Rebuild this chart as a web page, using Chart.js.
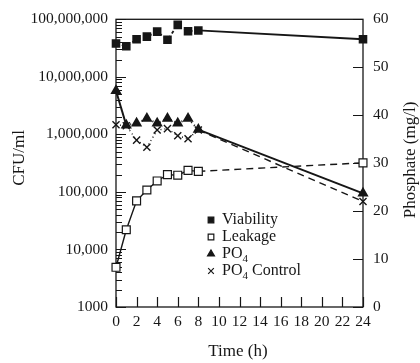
<!DOCTYPE html>
<html>
<head>
<meta charset="utf-8">
<script src="https://cdn.jsdelivr.net/npm/chart.js@4.4.1/dist/chart.umd.min.js"></script>
<style>
    html, body { margin: 0; padding: 0; background: #fff; }
</style>
</head>
<body>
<canvas id="phosphate-chart" width="420" height="363"></canvas>
<script>
// time points (h) shared by every series
const hours = [0, 1, 2, 3, 4, 5, 6, 7, 8, 24];
// CFU/ml (left, log axis)
const viability = [3.8e7, 3.4e7, 4.5e7, 5.0e7, 6.1e7, 4.4e7, 8.0e7, 6.2e7, 6.4e7, 4.5e7];
const leakage = [4900, 22000, 70000, 108000, 155000, 200000, 195000, 237000, 228000, 320000];
// phosphate mg/l (right axis)
const po4 = [45.1, 37.9, 38.3, 39.3, 38.3, 39.3, 38.3, 39.3, 37.0, 23.7];
const po4Control = [38.0, 37.8, 34.8, 33.3, 36.9, 37.2, 35.7, 35.1, 36.9, 22.0];

const seriesNames = ["Viability", "Leakage", "PO\u2084", "PO\u2084 Control"];
const cfuTicks = [1000, 10000, 100000, 1000000, 10000000, 100000000];
const phosphateTicks = [0, 10, 20, 30, 40, 50, 60];
const timeTicks = [0, 2, 4, 6, 8, 10, 12, 14, 16, 18, 20, 22, 24];

const ink = "#161616";
const serif = "'Liberation Serif', 'DejaVu Serif', serif";

const toPoints = (vals) => hours.map((h, i) => ({ x: h, y: vals[i] }));
// segments before 8 h are the short connectors, after that the long run to 24 h
const dash = (early, late) => (c) => (c.p0DataIndex < 8 ? early : late);

// every 1..9 x 10^k step for the log axis
const logSteps = [];
for (let k = 3; k < 8; k++) {
    for (let d = 1; d < 10; d++) logSteps.push(d * Math.pow(10, k));
}
logSteps.push(1e8);

const frameAndTitles = {
    id: "frameAndTitles",
    beforeDatasetsDraw(chart) {
        const { ctx, chartArea: a, scales } = chart;
        ctx.save();
        ctx.strokeStyle = ink;
        ctx.lineWidth = 1.3;
        ctx.strokeRect(a.left, a.top, a.right - a.left, a.bottom - a.top);
        ctx.lineWidth = 1.2;
        ctx.beginPath();
        scales.y.ticks.forEach((t) => {
            const y = Math.round(scales.y.getPixelForValue(t.value)) + 0.5;
            const len = cfuTicks.includes(t.value) ? 10 : 6;
            ctx.moveTo(a.left, y);
            ctx.lineTo(a.left + len, y);
        });
        scales.y2.ticks.forEach((t) => {
            const y = Math.round(scales.y2.getPixelForValue(t.value)) + 0.5;
            ctx.moveTo(a.right, y);
            ctx.lineTo(a.right - 10, y);
        });
        scales.x.ticks.forEach((t) => {
            const x = Math.round(scales.x.getPixelForValue(t.value)) + 0.5;
            ctx.moveTo(x, a.bottom);
            ctx.lineTo(x, a.bottom - 10);
        });
        ctx.stroke();
        ctx.restore();
    },
    afterDraw(chart) {
        const { ctx } = chart;
        ctx.save();
        ctx.fillStyle = ink;
        ctx.font = "17px " + serif;
        ctx.textAlign = "center";
        ctx.textBaseline = "middle";
        ctx.fillText("Time (h)", 238, 352);
        ctx.translate(20, 158);
        ctx.rotate(-Math.PI / 2);
        ctx.fillText("CFU/ml", 0, 0);
        ctx.restore();

        ctx.save();
        ctx.fillStyle = ink;
        ctx.font = "17px " + serif;
        ctx.textAlign = "center";
        ctx.textBaseline = "middle";
        ctx.translate(411, 160);
        ctx.rotate(-Math.PI / 2);
        ctx.fillText("Phosphate (mg/l)", 0, 0);
        ctx.restore();

        // legend
        ctx.save();
        chart.data.datasets.forEach((ds, i) => {
            const y = 220 + i * 17;
            ctx.strokeStyle = ink;
            ctx.fillStyle = ds.pointBackgroundColor;
            ctx.lineWidth = 1.2;
            Chart.helpers.drawPoint(ctx, { pointStyle: ds.pointStyle, radius: 4, rotation: 0, borderWidth: 1.2 }, 211, y);
            ctx.fillStyle = ink;
            ctx.textBaseline = "middle";
            ctx.textAlign = "left";
            const parts = ds.label.split("\u2084");
            let x = 222;
            ctx.font = "16px " + serif;
            ctx.fillText(parts[0], x, y);
            if (parts.length > 1) {
                x += ctx.measureText(parts[0]).width;
                ctx.font = "11px " + serif;
                ctx.fillText("4", x, y + 5);
                x += ctx.measureText("4").width;
                ctx.font = "16px " + serif;
                ctx.fillText(parts[1], x, y);
            }
        });
        ctx.restore();
    },
};

new Chart(document.getElementById("phosphate-chart"), {
    type: "line",
    data: {
        datasets: [
            {
                label: seriesNames[0],
                data: toPoints(viability),
                yAxisID: "y",
                borderColor: ink,
                borderWidth: 1.8,
                pointStyle: "rect",
                pointRadius: 4.8,
                pointBackgroundColor: ink,
                pointBorderColor: ink,
                segment: { borderDash: dash([3, 3], undefined) },
            },
            {
                label: seriesNames[1],
                data: toPoints(leakage),
                yAxisID: "y",
                borderColor: ink,
                borderWidth: 1.4,
                pointStyle: "rect",
                pointRadius: 5.6,
                pointBorderWidth: 1.2,
                pointBackgroundColor: "#fff",
                pointBorderColor: ink,
                segment: { borderDash: dash(undefined, [7, 5]) },
            },
            {
                label: seriesNames[2],
                data: toPoints(po4),
                yAxisID: "y2",
                borderColor: ink,
                borderWidth: 2,
                pointStyle: "triangle",
                pointRadius: 4.5,
                pointBackgroundColor: ink,
                pointBorderColor: ink,
                segment: { borderDash: (c) => (c.p0DataIndex > 0 && c.p0DataIndex < 8 ? [1, 3] : undefined) },
            },
            {
                label: seriesNames[3],
                data: toPoints(po4Control),
                yAxisID: "y2",
                borderColor: ink,
                borderWidth: 1.4,
                pointStyle: "crossRot",
                pointRadius: 5,
                pointBorderWidth: 1.4,
                pointBackgroundColor: ink,
                pointBorderColor: ink,
                segment: { borderDash: dash([1, 3], [7, 5]) },
            },
        ],
    },
    options: {
        responsive: false,
        animation: false,
        layout: { padding: { top: 15, left: 0, right: 0, bottom: 0 } },
        elements: { line: { tension: 0 } },
        datasets: { line: { clip: false } },
        plugins: {
            legend: { display: false },
            tooltip: { enabled: false },
        },
        scales: {
            x: {
                type: "linear",
                min: 0,
                max: 24,
                afterBuildTicks: (s) => { s.ticks = timeTicks.map((v) => ({ value: v })); },
                afterFit: (s) => { s.height = 56; },
                grid: { display: false, drawTicks: false },
                border: { display: false },
                ticks: {
                    autoSkip: false,
                    maxRotation: 0,
                    padding: 6,
                    color: ink,
                    font: { family: serif, size: 15.5 },
                },
            },
            y: {
                type: "logarithmic",
                position: "left",
                min: 1000,
                max: 100000000,
                afterBuildTicks: (s) => { s.ticks = logSteps.map((v) => ({ value: v })); },
                afterFit: (s) => { s.width = 116; },
                grid: { display: false, drawTicks: false },
                border: { display: false },
                ticks: {
                    autoSkip: false,
                    padding: 8,
                    color: ink,
                    font: { family: serif, size: 15.5 },
                    callback: (v) => {
                        if (!cfuTicks.includes(v)) return "";
                        return v === 1000 ? "1000" : v.toLocaleString("en-US");
                    },
                },
            },
            y2: {
                type: "linear",
                position: "right",
                min: 0,
                max: 60,
                afterBuildTicks: (s) => { s.ticks = phosphateTicks.map((v) => ({ value: v })); },
                afterFit: (s) => { s.width = 57; },
                grid: { display: false, drawTicks: false },
                border: { display: false },
                ticks: {
                    autoSkip: false,
                    padding: 10,
                    color: ink,
                    font: { family: serif, size: 15.5 },
                },
            },
        },
    },
    plugins: [frameAndTitles],
});
</script>
</body>
</html>
